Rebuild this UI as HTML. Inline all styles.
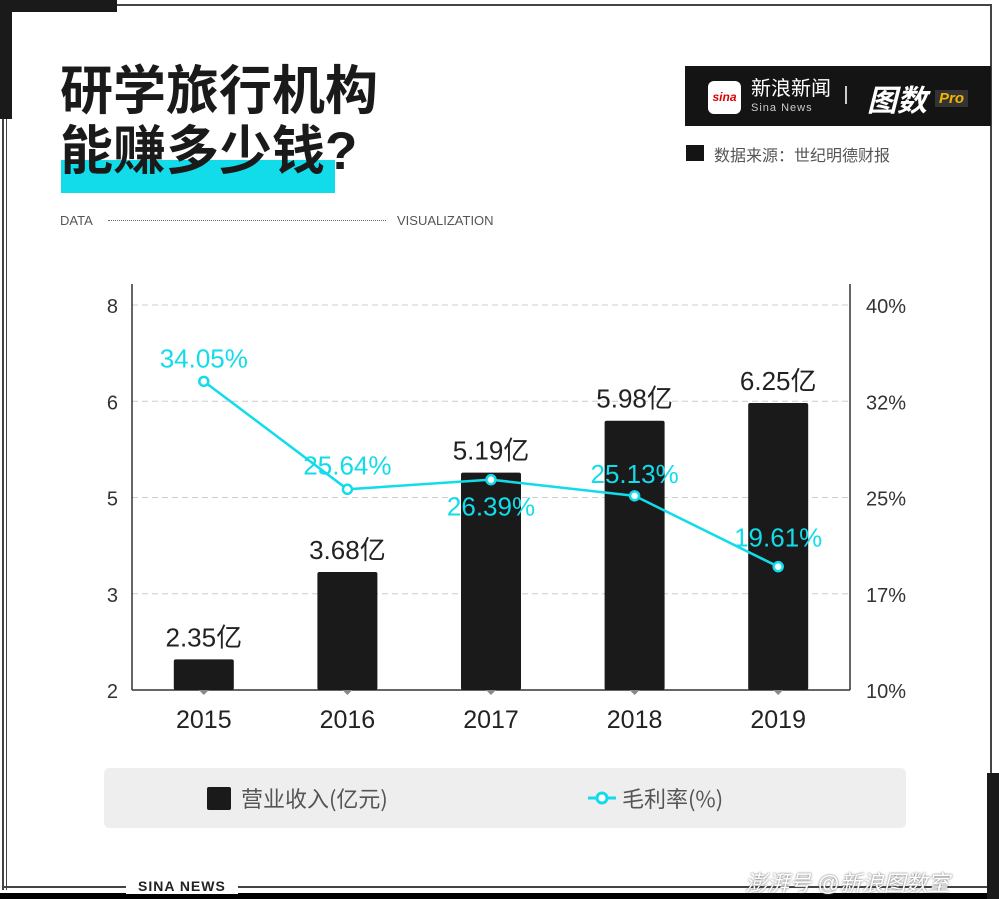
<!DOCTYPE html>
<html><head><meta charset="utf-8"><style>
body{margin:0;width:999px;height:899px;background:#fff;position:relative;overflow:hidden;font-family:"Liberation Sans","Noto Sans CJK SC",sans-serif}
.a{position:absolute}
</style></head><body>
<div class="a" style="left:115px;top:4px;width:877px;height:2px;background:#444"></div>
<div class="a" style="left:990px;top:4px;width:2px;height:885px;background:#444"></div>
<div class="a" style="left:2px;top:0;width:2px;height:890px;background:#444"></div>
<div class="a" style="left:6px;top:0;width:1px;height:890px;background:#444"></div>
<div class="a" style="left:0;top:0;width:117px;height:12px;background:#1a1a1a"></div>
<div class="a" style="left:0;top:0;width:12px;height:119px;background:#1a1a1a"></div>
<div class="a" style="left:2px;top:886px;width:990px;height:2px;background:#444"></div>
<div class="a" style="left:0;top:893px;width:999px;height:6px;background:#000"></div>
<div class="a" style="left:987px;top:773px;width:12px;height:126px;background:#1a1a1a"></div>
<div class="a" style="left:126px;top:878px;padding:0 12px;background:#fff;font-size:14px;font-weight:bold;color:#222;letter-spacing:1px">SINA NEWS</div>
<div class="a" style="left:745px;top:866px;font-size:22px;color:#fff;font-style:italic;text-shadow:0 0 2px #555">澎湃号 @新浪图数室</div>

<div class="a" style="left:61px;top:160px;width:274px;height:33px;background:#12dcea"></div>
<div class="a" style="left:60px;top:62px;font-size:53px;font-weight:bold;line-height:60px;color:#1a1a1a">研学旅行机构<br>能赚多少钱?</div>
<div class="a" style="left:60px;top:213px;font-size:13px;color:#555">DATA</div>
<div class="a" style="left:108px;top:220px;width:278px;border-top:1px dotted #666"></div>
<div class="a" style="left:397px;top:213px;font-size:13px;color:#555">VISUALIZATION</div>

<div class="a" style="left:685px;top:66px;width:306px;height:60px;background:#141414;color:#fff">
 <div class="a" style="left:23px;top:15px;width:33px;height:33px;background:#fff;border-radius:6px;color:#d00;font-size:12px;font-weight:bold;font-style:italic;text-align:center;line-height:33px">sina</div>
 <div class="a" style="left:66px;top:12px;font-size:20px;line-height:22px">新浪新闻</div>
 <div class="a" style="left:66px;top:36px;font-size:11px;color:#ccc;letter-spacing:1px">Sina News</div>
 <div class="a" style="left:160px;top:20px;width:2px;height:18px;background:#ccc"></div>
 <div class="a" style="left:182px;top:10px;font-size:30px;font-weight:bold;font-style:italic">图数</div>
 <div class="a" style="left:250px;top:24px;padding:0 4px;background:#333;color:#f5b400;font-size:15px;font-weight:bold;font-style:italic">Pro</div>
</div>
<div class="a" style="left:686px;top:145px;width:18px;height:16px;background:#141414"></div>
<div class="a" style="left:714px;top:142px;font-size:16px;color:#555">数据来源：世纪明德财报</div>

<svg class="a" style="left:0;top:0" width="999" height="899" id="chart"></svg>

<div class="a" style="left:104px;top:768px;width:802px;height:60px;background:#eee;border-radius:5px">
 <div class="a" style="left:103px;top:19px;width:24px;height:23px;background:#1a1a1a;border-radius:2px"></div>
 <div class="a" style="left:137px;top:14px;font-size:22px;color:#555;font-family:'Noto Sans CJK SC',sans-serif">营业收入(亿元)</div>
 <svg class="a" style="left:484px;top:20px" width="28" height="20"><line x1="0" y1="10" x2="28" y2="10" stroke="#12dcea" stroke-width="3"/><circle cx="14" cy="10" r="5" fill="#fff" stroke="#12dcea" stroke-width="3"/></svg>
 <div class="a" style="left:518px;top:14px;font-size:22px;color:#555;font-family:'Noto Sans CJK SC',sans-serif">毛利率(%)</div>
</div>

<script>
const years=["2015","2016","2017","2018","2019"];
const revenue=[2.35,3.68,5.19,5.98,6.25];
const revenueLabels=["2.35亿","3.68亿","5.19亿","5.98亿","6.25亿"];
const margin=[34.05,25.64,26.39,25.13,19.61];
const leftTicks=[2,3.5,5,6.5,8];
const leftTickLabels=["2","3","5","6","8"];
const rightTicks=[10,17.5,25,32.5,40];
const rightTickLabels=["10%","17%","25%","32%","40%"];
const marginLabelDy=[-14,-15,36,-13,-20];

const svg=document.getElementById('chart');const NS='http://www.w3.org/2000/svg';
const X0=132,X1=850,Y0=690,Y1=305;
const yL=v=>Y0-(v-2)/6*(Y0-Y1);
const barMin=1.885,barMax=7.74;
const yB=v=>Y0-(v-barMin)/(barMax-barMin)*(Y0-Y1);
const yR=v=>Y0-(v-10)/30*(Y0-Y1);
const xC=i=>X0+(X1-X0)/5*(i+0.5);
function mk(t,a){const e=document.createElementNS(NS,t);for(const k in a)e.setAttribute(k,a[k]);svg.appendChild(e);return e;}
leftTicks.forEach((v,i)=>{
 const y=yL(v);
 if(i>0){const g=mk('line',{x1:X0,x2:X1,y1:y,y2:y,stroke:'#ccc','stroke-dasharray':'6,4'});
 
 }
 const t=mk('text',{x:118,y:y+8,'text-anchor':'end','font-size':20,fill:'#333'});t.textContent=leftTickLabels[i];
 
 
});
rightTicks.forEach((v,i)=>{
 const t=mk('text',{x:866,y:yR(v)+8,'font-size':20,fill:'#333'});t.textContent=rightTickLabels[i];
 
 
});
[X0,X1].forEach(a=>{const l=mk('line',{x1:a,x2:a,y1:284,y2:Y0,stroke:'#333','stroke-width':1.5});
 
 });
const xa=mk('line',{x1:X0,x2:X1,y1:Y0,y2:Y0,stroke:'#333','stroke-width':1.5});


years.forEach((yr,i)=>{
 const x=xC(i),top=yB(revenue[i]);
 const b=mk('rect',{x:x-30,y:top,width:60,height:Y0-top,fill:'#1a1a1a',rx:2});
 
 
 mk('path',{d:`M${x-5} ${Y0} L${x} ${Y0+5} L${x+5} ${Y0} Z`,fill:'#888'});
 const t=mk('text',{x:x,y:728,'text-anchor':'middle','font-size':25,fill:'#222'});t.textContent=yr;
 
 
 const l=mk('text',{x:x,y:top-13,'text-anchor':'middle','font-size':26,fill:'#222'});l.textContent=revenueLabels[i];
 
 
});
const pts=margin.map((v,i)=>xC(i)+','+yR(v)).join(' ');
const pl=mk('polyline',{points:pts,fill:'none',stroke:'#12dcea','stroke-width':2.5});


margin.forEach((v,i)=>{
 const c=mk('circle',{cx:xC(i),cy:yR(v),r:4.5,fill:'#fff',stroke:'#12dcea','stroke-width':2.5});
 
 
 const t=mk('text',{x:xC(i),y:yR(v)+marginLabelDy[i],'text-anchor':'middle','font-size':26,fill:'#12dcea'});
 t.textContent=v.toFixed(2)+'%';
 
 
});
</script>
</body></html>
